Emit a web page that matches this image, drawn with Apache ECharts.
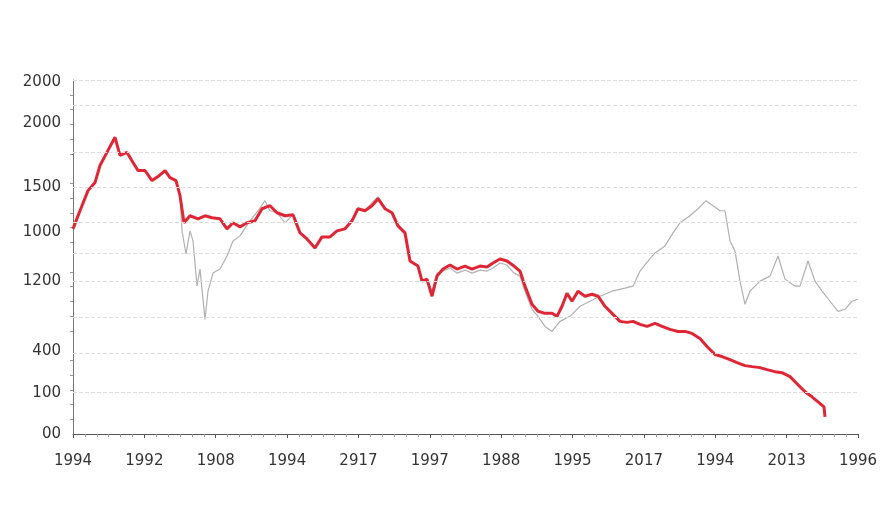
<!DOCTYPE html>
<html><head><meta charset="utf-8">
<script src="https://cdn.jsdelivr.net/npm/echarts@6/dist/echarts.min.js"></script>
<style>html,body{margin:0;background:#fff}#c{width:896px;height:512px}</style></head>
<body><div id="c"></div>
<script>
const xLabels=["1994","1992","1908","1994","2917","1997","1988","1995","2017","1994","2013","1996"];
const yLabelText=["2000","2000","1500","1000","1200","400","100","00"];
const yLabelPos=[350,309,245,201,152,82,41,0];
const gridPos=[352,327,280,245,211,180,152,116,80,42];
// [x, y] (x in axis units 0..785, y in axis units 0..352)
const redPts=[[0,204],[7,222],[15,242],[22,250],[27,267],[35,282],[42,295],[47,277],[54,280],[60,270],[65,262],[72,262],[79,252],[85,256],[92,262],[97,255],[103,252],[107,237],[111,210],[117,217],[125,214],[132,217],[139,215],[147,214],[154,204],[160,210],[167,206],[174,210],[182,212],[189,224],[197,227],[204,220],[212,217],[220,218],[227,200],[234,194],[242,185],[249,196],[257,196],[264,202],[272,204],[279,212],[285,224],[292,222],[299,227],[305,234],[312,224],[319,220],[325,207],[332,200],[337,172],[345,167],[349,152],[354,154],[359,137],[364,157],[370,164],[377,168],[384,164],[392,167],[399,164],[407,167],[414,166],[420,170],[427,174],[434,172],[441,167],[447,162],[452,147],[459,129],[465,122],[472,120],[479,120],[484,117],[489,127],[494,140],[499,132],[505,142],[512,137],[519,139],[525,137],[532,127],[539,120],[547,112],[554,111],[560,112],[567,109],[574,107],[582,110],[589,107],[597,104],[605,102],[612,102],[619,100],[627,95],[634,87],[642,79],[649,77],[657,74],[664,71],[672,68],[679,67],[687,66],[694,64],[702,62],[709,61],[717,57],[724,50],[732,42],[739,37],[745,32],[751,27],[752,17]];
const grayPts=[[0,204],[7,222],[15,242],[22,250],[27,267],[35,282],[42,295],[47,277],[54,280],[60,270],[65,262],[72,262],[79,252],[85,256],[92,262],[97,255],[103,252],[107,237],[109,202],[113,179],[117,202],[120,192],[124,147],[127,164],[132,114],[135,142],[140,160],[147,164],[154,177],[160,192],[167,197],[177,212],[185,222],[192,232],[197,222],[204,220],[212,210],[220,218],[227,200],[234,194],[242,185],[249,196],[257,196],[264,202],[272,204],[279,212],[285,224],[292,222],[299,230],[305,236],[312,224],[319,220],[325,207],[332,200],[337,172],[345,167],[349,152],[354,154],[359,142],[364,160],[370,162],[377,165],[384,160],[392,163],[399,160],[407,163],[414,162],[420,165],[427,170],[434,168],[441,160],[447,157],[452,142],[459,124],[465,117],[472,107],[479,102],[487,112],[497,117],[507,127],[517,132],[527,137],[539,142],[552,145],[560,147],[567,162],[575,172],[582,180],[592,187],[600,200],[607,210],[617,217],[625,224],[633,232],[640,227],[647,222],[652,222],[657,192],[662,182],[667,152],[672,129],[677,142],[687,152],[697,157],[705,177],[712,154],[722,147],[727,147],[735,172],[742,152],[749,142],[757,132],[765,122],[772,124],[779,132],[785,134]];
const chart=echarts.init(document.getElementById('c'));
const step=785/11;
chart.setOption({
  animation:false,
  grid:{left:73,right:38,top:80,bottom:78},
  xAxis:{type:'value',min:0,max:785,interval:step,
    axisLine:{lineStyle:{color:'#555'}},axisTick:{lineStyle:{color:'#555'},length:4},
    minorTick:{show:true,splitNumber:6,length:3,lineStyle:{color:'#999'}},
    splitLine:{show:false},
    axisLabel:{color:'#333',fontSize:15,fontFamily:'DejaVu Sans',margin:20,showMaxLabel:true,
      formatter:v=>xLabels[Math.round(v/step)]||''}},
  yAxis:[{type:'value',min:0,max:352,interval:1,
    axisLine:{show:true,lineStyle:{color:'#777'}},axisTick:{show:false},
    splitLine:{show:false},
    axisLabel:{show:true,color:'#333',fontSize:15,fontFamily:'DejaVu Sans',margin:12,hideOverlap:false,
      formatter:v=>{const i=yLabelPos.indexOf(Math.round(v));return i>=0?yLabelText[i]:'';}}},
    {type:'value',min:0,max:352,interval:88,position:'left',
    axisLine:{show:false},axisTick:{show:false},axisLabel:{show:false},splitLine:{show:false},
    minorTick:{show:true,splitNumber:6,length:3,lineStyle:{color:'#999'}}}],
  series:[
    {type:'line',data:grayPts,showSymbol:false,lineStyle:{color:'#b0b0b0',width:1.2},z:2,
      markLine:{symbol:'none',silent:true,lineStyle:{color:'#ddd',type:'dashed',width:1},label:{show:false},
        data:gridPos.map(v=>({yAxis:v}))}},
    {type:'line',data:redPts,showSymbol:false,lineStyle:{color:'#e02535',width:3},z:3}
  ]
});
</script></body></html>
